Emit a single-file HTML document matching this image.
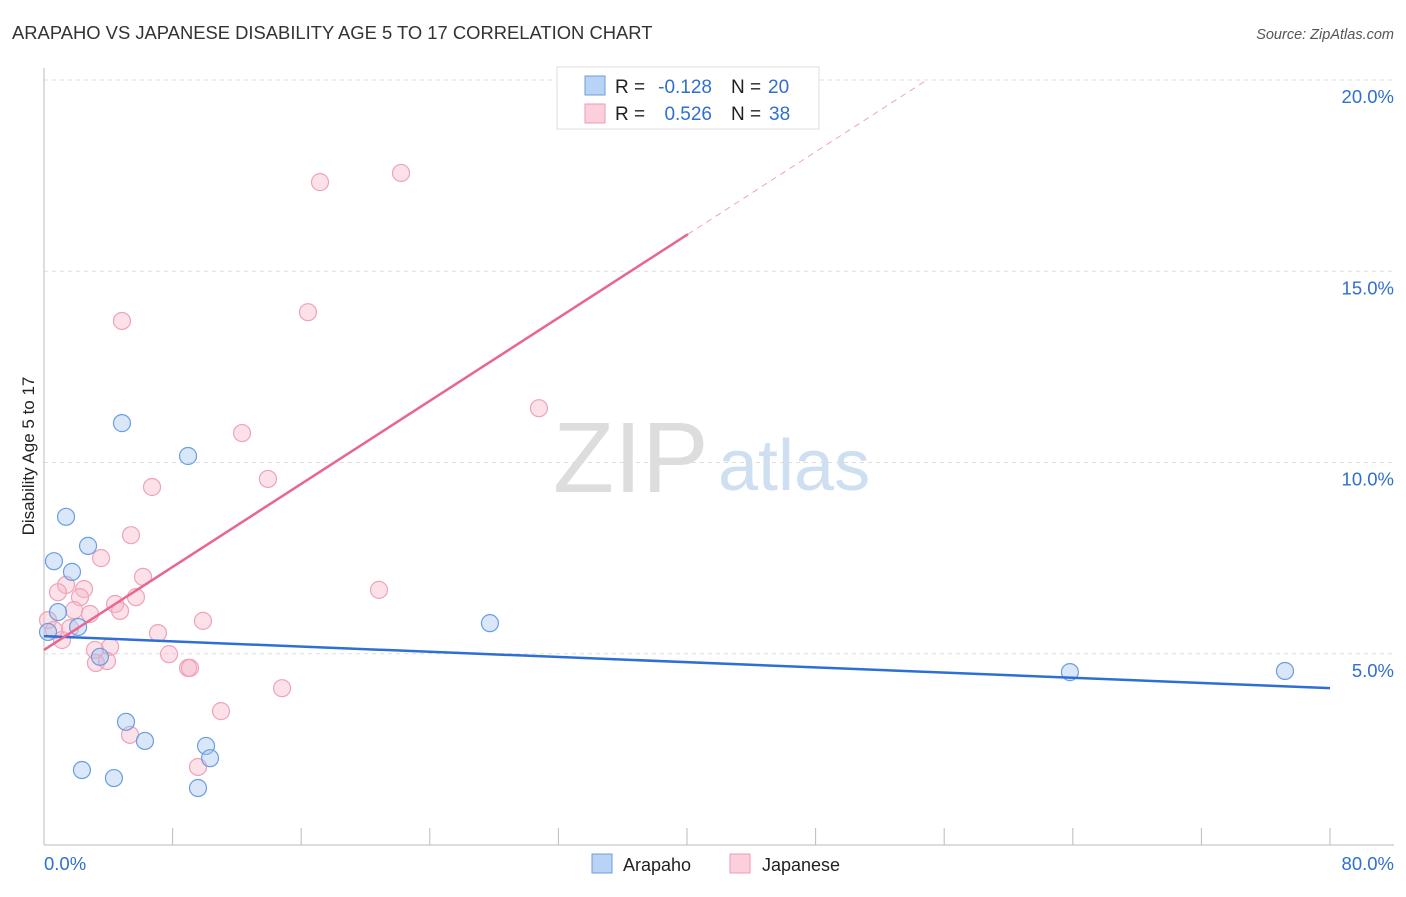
<!DOCTYPE html>
<html><head><meta charset="utf-8"><style>
body{margin:0;background:#fff;font-family:"Liberation Sans",sans-serif}
svg text{font-family:"Liberation Sans",sans-serif}
</style></head><body>
<svg id="c" width="1406" height="892">
<text x="12" y="39" font-size="18.4" fill="#333">ARAPAHO VS JAPANESE DISABILITY AGE 5 TO 17 CORRELATION CHART</text>
<text x="1394" y="39" font-size="14.5" fill="#555" font-style="italic" text-anchor="end">Source: ZipAtlas.com</text>
<text x="553" y="492" font-size="100" fill="#ddd" font-family="Liberation Serif">ZIP</text>
<text x="718" y="490" font-size="72" fill="#cfdff2">atlas</text>
<text transform="translate(34,456) rotate(-90)" font-size="17" fill="#222" text-anchor="middle">Disability Age 5 to 17</text>
<g id="grid"></g><g id="marks"></g>
<g>
<rect x="557" y="67" width="262" height="62" fill="#fff" stroke="#ddd"/>
<rect x="585" y="76" width="20" height="19" fill="#b8d3f5" stroke="#6b9de0"/>
<rect x="585" y="104" width="20" height="19" fill="#fbd0dc" stroke="#ee9ab2"/>
<text x="615" y="93" font-size="19" fill="#222">R =</text>
<text x="712" y="93" font-size="19" fill="#2f6fce" text-anchor="end">-0.128</text>
<text x="731" y="93" font-size="19" fill="#222">N =</text>
<text x="768" y="93" font-size="19" fill="#2f6fce">20</text>
<text x="615" y="120" font-size="19" fill="#222">R =</text>
<text x="712" y="120" font-size="19" fill="#2f6fce" text-anchor="end">0.526</text>
<text x="731" y="120" font-size="19" fill="#222">N =</text>
<text x="769" y="120" font-size="19" fill="#2f6fce">38</text>
</g>
<g>
<rect x="592" y="854" width="20" height="19" fill="#b8d3f5" stroke="#6b9de0"/>
<text x="623" y="871" font-size="18" fill="#222">Arapaho</text>
<rect x="730" y="854" width="20" height="19" fill="#fbd0dc" stroke="#ee9ab2"/>
<text x="762" y="871" font-size="18" fill="#222">Japanese</text>
</g>
</svg>
<script>
const blueX=[0.62,1.37,1.74,0.87,2.74,4.85,8.96,0.25,2.12,3.48,5.10,6.28,10.08,10.33,2.36,4.35,9.58,27.74,63.82,77.2];
const blueY=[7.42,8.58,7.14,6.09,7.82,11.03,10.17,5.57,5.70,4.92,3.22,2.72,2.59,2.27,1.96,1.75,1.49,5.80,4.52,4.55];
const pinkX=[4.85,16.42,17.17,22.21,12.32,6.72,13.93,30.79,5.41,3.55,6.16,1.37,2.49,2.24,0.87,5.72,4.42,1.87,2.86,4.73,0.25,1.12,1.62,0.62,7.09,9.89,4.11,3.17,7.78,3.23,3.92,8.96,9.08,20.84,14.81,11.01,5.35,9.58];
const pinkY=[13.70,13.93,17.33,17.57,10.77,9.36,9.57,11.42,8.10,7.50,7.01,6.80,6.69,6.48,6.61,6.48,6.30,6.14,6.04,6.12,5.88,5.36,5.67,5.62,5.54,5.86,5.18,5.10,4.99,4.76,4.81,4.63,4.63,6.67,4.10,3.50,2.88,2.04];
const blueTrend=[5.46,4.10];
const pinkTrend=[5.10,0.2713];
const yTicks=[5,10,15,20];
const NS="http://www.w3.org/2000/svg";
const sx=v=>44+v*16.075, sy=v=>845-v*38.25;
function mk(t,a,p){const e=document.createElementNS(NS,t);for(const k in a)e.setAttribute(k,a[k]);p.appendChild(e);return e;}
const g=document.getElementById('grid'),m=document.getElementById('marks');
yTicks.forEach(t=>{
 const l=mk('line',{x1:44,x2:1394,y1:sy(t),y2:sy(t),stroke:'#ddd','stroke-dasharray':'4,4'},g);
 
 
 const tx=mk('text',{x:1394,y:sy(t)+23,'font-size':18.5,fill:'#2f6fce','text-anchor':'end'},g);tx.textContent=t.toFixed(1)+'%';
 
 
});
mk('line',{x1:44,x2:44,y1:68,y2:845,stroke:'#bbb'},g);
mk('line',{x1:44,x2:1394,y1:845,y2:845,stroke:'#bbb'},g);
for(let i=0;i<=10;i++){mk('line',{x1:sx(i*8),x2:sx(i*8),y1:828,y2:845,stroke:'#bbb'},g);}
const x0=mk('text',{x:44,y:870,'font-size':18.5,fill:'#2f6fce'},g);x0.textContent='0.0%';


const x1=mk('text',{x:1394,y:870,'font-size':18.5,fill:'#2f6fce','text-anchor':'end'},g);x1.textContent='80.0%';


pinkX.forEach((x,i)=>{const c=mk('circle',{cx:sx(x),cy:sy(pinkY[i]),r:8.5,fill:'rgba(248,180,200,0.4)',stroke:'#eea3b8','stroke-width':1.2},m);
 
 });
blueX.forEach((x,i)=>{const c=mk('circle',{cx:sx(x),cy:sy(blueY[i]),r:8.5,fill:'rgba(160,196,240,0.4)',stroke:'#6b9de0','stroke-width':1.2},m);
 
 });
const bl=mk('line',{x1:sx(0),y1:sy(blueTrend[0]),x2:sx(80),y2:sy(blueTrend[1]),stroke:'#2e6fd6','stroke-width':2.5},m);


const pEnd=40.06, pDash=(20-pinkTrend[0])/pinkTrend[1];
const pl=mk('line',{x1:sx(0),y1:sy(pinkTrend[0]),x2:sx(pEnd),y2:sy(pinkTrend[0]+pinkTrend[1]*pEnd),stroke:'#e8668f','stroke-width':2.5},m);


const pd=mk('line',{x1:sx(pEnd),y1:sy(pinkTrend[0]+pinkTrend[1]*pEnd),x2:sx(pDash),y2:sy(20),stroke:'#eea3b8','stroke-width':1,'stroke-dasharray':'6,5'},m);


</script>
</body></html>
